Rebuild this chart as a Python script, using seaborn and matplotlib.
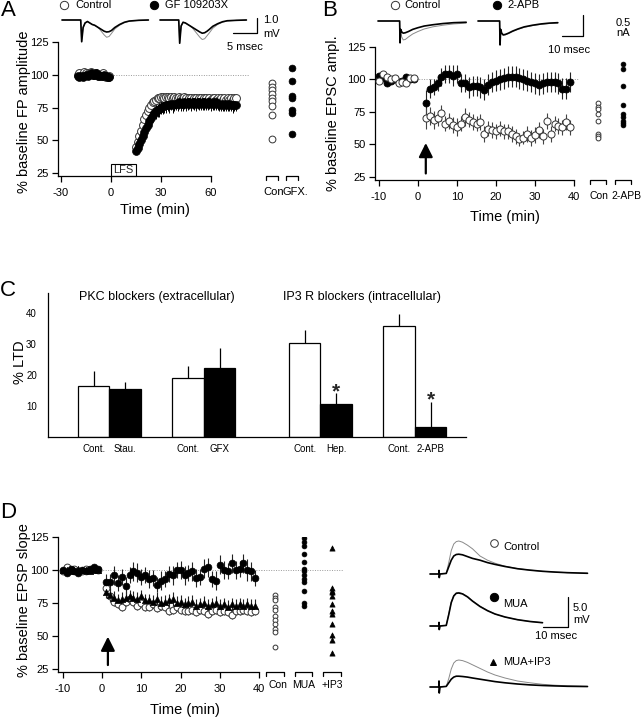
import matplotlib
matplotlib.use("Agg")
import matplotlib.pyplot as plt
from matplotlib.lines import Line2D
from matplotlib.patches import Rectangle
import numpy as np
import pandas as pd
import seaborn as sns

# ======================= DATA =======================
# ---- Panel A: % baseline FP amplitude (Control vs GF 109203X) ----
A_BASE_T = list(range(-20, 0))
A_POST_T = list(range(15, 76))
A_CON_BASE = [100, 101, 99, 100, 102, 101, 100, 101, 102, 101,
              100, 101, 100, 99, 100, 101, 99, 98, 98, 99]
A_GFX_BASE = [99, 98, 99, 98, 99, 100, 99, 100, 101, 100,
              100, 101, 99, 100, 99, 99, 100, 99, 98, 98]
A_CON_POST = [45, 49, 53, 57, 62, 66, 69, 72, 75, 77,
              79, 80, 81, 82, 82, 83, 83, 82, 83, 83,
              82, 83, 82, 83, 82, 82, 83, 82, 82, 83,
              82, 81, 82, 82, 81, 82, 82, 81, 82, 82,
              81, 82, 82, 81, 82, 81, 82, 82, 81, 82,
              81, 82, 81, 82, 81, 82, 81, 82, 81, 82,
              82]
A_GFX_POST = [42, 44, 47, 50, 53, 56, 59, 62, 65, 67,
              69, 71, 72, 73, 74, 75, 76, 76, 77, 77,
              77, 78, 77, 78, 78, 78, 79, 78, 78, 79,
              78, 79, 79, 78, 79, 79, 78, 79, 79, 78,
              79, 79, 78, 79, 79, 78, 79, 78, 79, 78,
              78, 77, 78, 77, 78, 77, 78, 77, 77, 77,
              77]
A_CON_SEM = [2, 2, 3, 3, 3, 3, 3, 3, 3, 3,
             3, 3, 3, 3, 3, 3, 3, 3, 3, 3,
             3, 3, 3, 3, 3, 3, 3, 3, 3, 3,
             3, 3, 3, 3, 3, 3, 3, 3, 3, 3,
             3, 3, 3, 3, 3, 3, 3, 3, 3, 3,
             3, 3, 3, 3, 3, 3, 3, 3, 3, 3,
             3]
A_GFX_SEM = [2, 3, 3, 3, 4, 4, 4, 4, 5, 5,
             5, 5, 6, 5, 6, 5, 6, 5, 6, 5,
             6, 5, 6, 6, 5, 6, 5, 6, 6, 5,
             6, 6, 5, 6, 5, 6, 6, 5, 6, 5,
             6, 6, 5, 6, 5, 6, 6, 5, 6, 5,
             6, 5, 6, 5, 6, 5, 6, 5, 6, 5,
             5]
A_COL_CON = [94, 91, 88, 85, 82, 80, 76, 69, 51]
A_COL_GFX = [105, 95, 84, 82, 73, 71, 55]
A_COL_LABELS = ["Con", "GFX."]
LFS_START, LFS_END = 0, 15

# Panel A field-potential traces (ms, mV)
A_TR_T = [0, 3.9, 4.1, 4.4, 4.8, 5.3, 5.8, 6.3, 6.8, 7.3, 7.8, 8.3, 8.8,
          9.3, 9.8, 10.3, 11.0, 12.0, 13.0, 14.0, 16.0, 18.0]
A_TR1_BEFORE = [0, 0, -1.45, -0.5, -0.2, -0.1, -0.2, -0.3, -0.35, -0.45, -0.6, -0.8,
                -1.0, -1.15, -1.1, -0.9, -0.6, -0.35, -0.18, -0.08, -0.02, 0]
A_TR1_AFTER = [0, 0, -1.45, -0.5, -0.2, -0.1, -0.2, -0.3, -0.35, -0.45, -0.55, -0.65,
               -0.75, -0.8, -0.78, -0.7, -0.5, -0.3, -0.15, -0.07, -0.02, 0]
A_TR2_BEFORE = [0, 0, -1.55, -0.4, -0.15, -0.2, -0.3, -0.4, -0.55, -0.75, -0.95, -1.15,
                -1.3, -1.25, -1.05, -0.85, -0.55, -0.3, -0.15, -0.07, -0.02, 0]
A_TR2_AFTER = [0, 0, -1.55, -0.4, -0.15, -0.2, -0.3, -0.4, -0.5, -0.6, -0.7, -0.8,
               -0.88, -0.85, -0.75, -0.62, -0.42, -0.25, -0.12, -0.05, -0.02, 0]
A_SCALE_MS, A_SCALE_MV = 5, 1.0

# ---- Panel B: % baseline EPSC amplitude (Control vs 2-APB) ----
B_BASE_T = list(range(-10, 0))
B_POST_T = list(range(2, 40))
B_CON_BASE = [99, 104, 102, 100, 101, 97, 98, 97, 101, 101]
B_APB_BASE = [103, 101, 97, 99, 100, 98, 99, 102, 100, 100]
B_CON_POST = [70, 72, 69, 70, 74, 66, 68, 65, 63, 66,
              71, 69, 67, 66, 67, 58, 62, 61, 60, 62,
              60, 60, 58, 56, 54, 55, 58, 55, 57, 61,
              56, 68, 58, 66, 64, 63, 67, 63]
B_APB_POST = [82, 93, 94, 97, 102, 104, 104, 103, 104, 97,
              97, 94, 95, 95, 94, 92, 96, 98, 99, 100,
              101, 102, 102, 102, 101, 100, 99, 98, 97, 96,
              97, 98, 98, 98, 97, 93, 93, 98]
B_CON_SEM = [8, 7, 7, 6, 6, 6, 6, 6, 7, 6,
             7, 6, 6, 6, 6, 6, 6, 6, 6, 6,
             6, 6, 6, 6, 5, 5, 6, 6, 6, 6,
             6, 6, 6, 6, 6, 6, 6, 6]
B_APB_SEM = [10, 7, 6, 6, 7, 7, 7, 8, 7, 7,
             7, 8, 8, 8, 8, 8, 8, 8, 8, 8,
             8, 8, 8, 8, 8, 8, 8, 8, 8, 8,
             8, 8, 8, 8, 8, 8, 8, 8]
B_COL_CON = [82, 79, 77, 73, 68, 58, 56, 55]
B_COL_APB = [112, 108, 95, 80, 73, 71, 68, 66, 65]
B_COL_LABELS = ["Con", "2-APB"]
B_ARROW_T = 2

# Panel B EPSC traces (ms, nA)
B_TR_T1 = [0, 10.3, 10.5, 10.8, 11.3, 12.0, 13.0, 14.5, 16.5, 19.0, 22.0, 26.0, 31.0, 36.0, 42.0]
B_TR_T2 = [0, 10.3, 10.5, 10.8, 11.3, 12.0, 13.0, 14.5, 16.5, 19.0, 22.0, 26.0, 30.0, 34.0, 38.0]
B_TR1_BEFORE = [0, 0, -0.52, -0.25, -0.38, -0.45, -0.44, -0.38, -0.31, -0.25, -0.19, -0.14, -0.1, -0.07, -0.05]
B_TR1_AFTER = [0, 0, -0.52, -0.2, -0.26, -0.29, -0.28, -0.25, -0.2, -0.16, -0.12, -0.09, -0.06, -0.04, -0.03]
B_TR2_BEFORE = [0, 0, -0.57, -0.22, -0.3, -0.34, -0.33, -0.3, -0.25, -0.2, -0.15, -0.11, -0.08, -0.06, -0.05]
B_TR2_AFTER = [0, 0, -0.57, -0.2, -0.29, -0.33, -0.32, -0.29, -0.24, -0.19, -0.14, -0.1, -0.07, -0.05, -0.04]
B_SCALE_MS, B_SCALE_NA = 10, 0.5

# ---- Panel C: % LTD bars ----
C_LABELS = ["Cont.", "Stau.", "Cont.", "GFX", "Cont.", "Hep.", "Cont.", "2-APB"]
C_KIND = ["Cont", "Drug", "Cont", "Drug", "Cont", "Drug", "Cont", "Drug"]
C_LTD = [16.5, 15.3, 19.1, 22.3, 30.1, 10.5, 35.8, 3.3]
C_ERR = [4.8, 2.5, 3.7, 6.2, 4.3, 3.5, 3.8, 8.0]
C_SIG = [False, False, False, False, False, True, False, True]
C_TITLES = ["PKC blockers (extracellular)", "IP3 R blockers (intracellular)"]

# ---- Panel D: % baseline EPSP slope (Control, MUA, MUA+IP3) ----
D_BASE_T = list(range(-10, 0))
D_POST_T = list(range(1, 40))
D_CON_BASE = [99, 102, 100, 101, 99, 99, 101, 100, 101, 100]
D_MUA_BASE = [100, 98, 101, 99, 98, 100, 99, 101, 102, 101]
D_IP3_BASE = [100, 100, 99, 100, 101, 100, 100, 99, 100, 100]
D_MUA_POST = [91, 91, 96, 90, 95, 88, 96, 99, 98, 95,
              96, 93, 94, 89, 92, 93, 97, 96, 100, 100,
              96, 98, 99, 94, 95, 101, 102, 93, 92, 104,
              100, 99, 105, 100, 101, 105, 100, 99, 94]
D_CON_POST = [86, 80, 76, 74, 72, 76, 78, 76, 73, 75,
              72, 72, 74, 71, 73, 72, 69, 70, 72, 70,
              69, 69, 70, 68, 70, 69, 67, 69, 70, 68,
              69, 68, 66, 69, 69, 70, 69, 68, 69]
D_IP3_POST = [83, 81, 79, 77, 78, 79, 80, 79, 78, 80,
              77, 77, 76, 78, 75, 76, 77, 78, 75, 76,
              74, 75, 76, 73, 74, 75, 73, 74, 75, 73,
              74, 72, 74, 73, 74, 73, 74, 73, 73]
D_MUA_SEM = [6, 6, 7, 6, 6, 7, 6, 7, 7, 6,
             6, 7, 6, 6, 7, 6, 6, 7, 6, 7,
             7, 6, 7, 7, 6, 7, 7, 6, 7, 7,
             7, 6, 7, 7, 6, 7, 8, 7, 6]
D_CON_SEM = [3, 3, 3, 3, 3, 3, 3, 3, 3, 3,
             3, 3, 3, 3, 3, 3, 3, 3, 3, 3,
             3, 3, 3, 3, 3, 3, 3, 3, 3, 3,
             3, 3, 3, 3, 3, 3, 3, 3, 3]
D_IP3_SEM = [4, 5, 5, 5, 5, 5, 5, 5, 5, 5,
             5, 5, 5, 5, 5, 5, 5, 5, 5, 5,
             5, 5, 5, 5, 5, 5, 5, 5, 5, 5,
             5, 5, 5, 5, 5, 5, 5, 5, 5]
D_COL_CON = [81, 79, 77, 72, 70, 65, 62, 59, 55, 53, 42]
D_COL_MUA = [124, 121, 118, 112, 106, 101, 99, 96, 93, 91, 84, 75, 73]
D_COL_IP3 = [117, 86, 84, 83, 80, 74, 69, 67, 59, 51, 47, 37]
D_COL_LABELS = ["Con", "MUA", "+IP3"]
D_ARROW_T = 1.5

# Panel D EPSP traces (ms, mV)
D_TR_T = [0, 3.5, 3.6, 3.7, 4, 6.5, 7.5, 8.5, 9.5, 10.5, 11.5, 13, 15, 17,
          20, 23, 26, 30, 35, 40, 45, 50, 55, 63]
D_TR_T_MUA = [0, 3.5, 3.6, 3.7, 4, 6.5, 7.5, 8.5, 9.5, 10.5, 11.5, 13, 15, 17,
              20, 23, 26, 30, 35, 40, 45]
D_CTRL_BEFORE = [0, 0, 0.6, -0.6, 0, 0.1, 1.9, 3.9, 5.0, 5.4, 5.5, 5.3, 4.8, 4.2,
                 3.0, 2.3, 1.8, 1.3, 0.9, 0.65, 0.45, 0.32, 0.22, 0.12]
D_CTRL_AFTER = [0, 0, 0.6, -0.6, 0, 0.1, 1.2, 2.3, 3.0, 3.25, 3.3, 3.2, 2.9, 2.6,
                2.3, 1.9, 1.6, 1.25, 0.88, 0.64, 0.45, 0.32, 0.22, 0.12]
D_MUA_BEFORE = [0, 0, 0.6, -0.6, 0, 0.1, 2.0, 4.0, 5.1, 5.5, 5.6, 5.4, 4.9, 4.2,
                3.3, 2.6, 2.0, 1.5, 1.05, 0.75, 0.55]
D_MUA_AFTER = [0, 0, 0.6, -0.6, 0, 0.1, 1.9, 3.9, 5.0, 5.45, 5.5, 5.35, 4.85, 4.15,
               3.25, 2.55, 2.0, 1.5, 1.05, 0.75, 0.55]
D_IP3_BEFORE = [0, 0, 1.0, -1.0, 0, 0.1, 1.4, 3.0, 4.0, 4.4, 4.5, 4.4, 4.1, 3.7,
                3.1, 2.5, 2.0, 1.5, 1.0, 0.7, 0.45, 0.3, 0.2, 0.1]
D_IP3_AFTER = [0, 0, 1.0, -1.0, 0, 0.1, 0.7, 1.3, 1.65, 1.8, 1.8, 1.75, 1.65, 1.5,
               1.3, 1.1, 0.9, 0.7, 0.5, 0.35, 0.25, 0.18, 0.12, 0.08]
D_SCALE_MS, D_SCALE_MV = 10, 5.0
D_TRACE_NAMES = ["Control", "MUA", "MUA+IP3"]

# ======================= STYLE / LAYOUT =======================
sns.set_theme(style="ticks")
plt.rcParams["font.family"] = ["Liberation Sans", "DejaVu Sans"]
plt.rcParams["axes.unicode_minus"] = False

W, H = 644, 720
fig = plt.figure(figsize=(W / 100, H / 100), dpi=100)
fig.patch.set_facecolor("white")

OPEN = dict(color="white", edgecolor="#333333", linewidth=0.7)
FILL = dict(color="black", edgecolor="black", linewidth=0.5)
GRAYLINE = dict(colors="#9a9a9a", linestyles=(0, (1, 1.5)), lw=0.7, zorder=1)


def px_axes(left, top, right, bottom):
    ax = fig.add_axes([left / W, 1 - bottom / H, (right - left) / W, (bottom - top) / H])
    ax.patch.set_alpha(0)
    return ax


def set_px_lims(ax, rect, xref_px, xref, xscale, yref_px, yref, yscale):
    left, top, right, bottom = rect
    ax.set_xlim(xref + (left - xref_px) / xscale, xref + (right - xref_px) / xscale)
    ax.set_ylim(yref - (bottom - yref_px) / yscale, yref - (top - yref_px) / yscale)


def ftext(x, y, s, **kw):
    kw.setdefault("color", "black")
    fig.text(x / W, 1 - y / H, s, **kw)


def fmarker(x, y, marker, filled, size):
    fig.add_artist(Line2D([x / W], [1 - y / H], marker=marker, markersize=size,
                          markerfacecolor="black" if filled else "white",
                          markeredgecolor="black" if filled else "#333333",
                          markeredgewidth=0.7, transform=fig.transFigure))


def style_tc(ax, xticks, yticks):
    sns.despine(ax=ax)
    x0, _ = ax.get_xlim()
    y0, _ = ax.get_ylim()
    ax.spines["left"].set_bounds(y0, yticks[-1])
    ax.spines["bottom"].set_bounds(x0, xticks[-1])
    for s in ("left", "bottom"):
        ax.spines[s].set_linewidth(0.9)
        ax.spines[s].set_color("black")
    ax.set_xticks(xticks)
    ax.set_yticks(yticks)
    ax.set_xticklabels([str(v) for v in xticks])
    ax.set_yticklabels([str(v) for v in yticks])
    ax.tick_params(axis="both", direction="out", length=4.5, width=0.9, labelsize=8,
                   color="black", labelcolor="black")
    ax.tick_params(axis="x", pad=4)
    ax.tick_params(axis="y", pad=2)
    ax.set_xlabel("")
    ax.set_ylabel("")


def style_cols(ax, labels, label_pos, half, leg, drop_pt, fs=8):
    for s in ax.spines.values():
        s.set_visible(False)
    ax.set_yticks([])
    ax.set_xticks([])
    ax.set_xlabel("")
    ax.set_ylabel("")
    yb = ax.get_ylim()[0]
    for i in range(len(labels)):
        ax.plot([i - half, i - half, i + half, i + half], [yb - leg, yb, yb, yb - leg],
                color="black", lw=0.9, clip_on=False)
    for lab, xp in zip(labels, label_pos):
        ax.annotate(lab, xy=(xp, 0), xycoords=("data", "axes fraction"),
                    xytext=(0, -drop_pt), textcoords="offset points",
                    ha="center", va="top", fontsize=fs, color="black", annotation_clip=False)


def scatter(ax, x, y, style, marker="o", s=30):
    sns.scatterplot(x=x, y=y, ax=ax, marker=marker, s=s, legend=False, zorder=3, **style)


def trace(ax, t, v, thin):
    sns.lineplot(x=t, y=v, ax=ax, estimator=None, sort=False,
                 color="#8a8a8a" if thin else "black", lw=0.7 if thin else 1.2)


# ======================= PANEL A =======================
rA = (58, 42, 250, 176)
axA = px_axes(*rA)
axA.hlines(100, -20.5, 84, **GRAYLINE)
axA.errorbar(A_POST_T, A_CON_POST, yerr=A_CON_SEM, fmt="none", ecolor="#555555", elinewidth=0.7, zorder=2)
axA.errorbar(A_POST_T, A_GFX_POST, yerr=A_GFX_SEM, fmt="none", ecolor="black", elinewidth=0.7, zorder=2)
scatter(axA, A_BASE_T + A_POST_T, A_CON_BASE + A_CON_POST, OPEN, s=32)
scatter(axA, A_BASE_T + A_POST_T, A_GFX_BASE + A_GFX_POST, FILL, s=32)
set_px_lims(axA, rA, 61, -30, 50 / 30, 42, 125, 1.31)
style_tc(axA, [-30, 0, 30, 60], [25, 50, 75, 100, 125])
yb = axA.get_ylim()[0]
axA.add_patch(Rectangle((LFS_START, yb), LFS_END - LFS_START, 9.5, fill=False, lw=0.8,
                        edgecolor="black", clip_on=False, zorder=4))
axA.text((LFS_START + LFS_END) / 2, yb + 4.6, "LFS", ha="center", va="center", fontsize=8)

rAc = (258, 42, 306, 176)
axAc = px_axes(*rAc)
scatter(axAc, [0] * len(A_COL_CON), A_COL_CON, OPEN, s=24)
scatter(axAc, [1] * len(A_COL_GFX), A_COL_GFX, FILL, s=24)
set_px_lims(axAc, rAc, 272, 0, 20, 42, 125, 1.31)
style_cols(axAc, A_COL_LABELS, [0.08, 1.18], 0.3, 3.0, 8, fs=8)

# traces A
rAt1 = (60, 8, 152, 46)
axAt1 = px_axes(*rAt1)
trace(axAt1, A_TR_T, A_TR1_BEFORE, True)
trace(axAt1, A_TR_T, A_TR1_AFTER, False)
set_px_lims(axAt1, rAt1, 62, 0, 4.8, 20, 0, 15)
axAt1.axis("off")
rAt2 = (158, 8, 262, 46)
axAt2 = px_axes(*rAt2)
trace(axAt2, A_TR_T, A_TR2_BEFORE, True)
trace(axAt2, A_TR_T, A_TR2_AFTER, False)
ax_corner = (20.2, -0.87)
axAt2.plot([ax_corner[0] - A_SCALE_MS, ax_corner[0], ax_corner[0]],
           [ax_corner[1], ax_corner[1], ax_corner[1] + A_SCALE_MV], color="black", lw=0.9, clip_on=False)
set_px_lims(axAt2, rAt2, 160, 0, 4.8, 20, 0, 15)
axAt2.axis("off")

ftext(1, 11, "A", fontsize=16, ha="left", va="center")
fmarker(64, 5, "o", False, 6)
ftext(75, 5, "Control", fontsize=8, ha="left", va="center")
fmarker(154, 5, "o", True, 6)
ftext(165, 5, "GF 109203X", fontsize=8, ha="left", va="center")
ftext(263, 20, "1.0", fontsize=8, ha="left", va="center")
ftext(263, 34, "mV", fontsize=8, ha="left", va="center")
ftext(245, 47, "5 msec", fontsize=8, ha="center", va="center")
ftext(24, 112, "% baseline FP amplitude", fontsize=10.5, rotation=90, ha="center", va="center")
ftext(155, 210, "Time (min)", fontsize=10.5, ha="center", va="center")

# ======================= PANEL B =======================
rB = (375, 47, 580, 180)
axB = px_axes(*rB)
axB.hlines(100, -11, 41, **GRAYLINE)
axB.errorbar(B_POST_T, B_APB_POST, yerr=B_APB_SEM, fmt="none", ecolor="#222222", elinewidth=0.8, zorder=2)
axB.errorbar(B_POST_T, B_CON_POST, yerr=B_CON_SEM, fmt="none", ecolor="#444444", elinewidth=0.8, zorder=2)
scatter(axB, B_BASE_T + B_POST_T, B_APB_BASE + B_APB_POST, FILL, s=26)
scatter(axB, B_BASE_T + B_POST_T, B_CON_BASE + B_CON_POST, OPEN, s=26)
axB.annotate("", xy=(B_ARROW_T, 51), xytext=(B_ARROW_T, 27.5),
             arrowprops=dict(arrowstyle="-|>,head_length=0.6,head_width=0.3", color="black",
                             lw=1.6, shrinkA=0, shrinkB=0, mutation_scale=14))
set_px_lims(axB, rB, 418, 0, 3.9, 46.7, 125, 1.3)
style_tc(axB, [-10, 0, 10, 20, 30, 40], [25, 50, 75, 100, 125])

rBc = (585, 47, 640, 180)
axBc = px_axes(*rBc)
scatter(axBc, [0] * len(B_COL_CON), B_COL_CON, OPEN, s=12)
scatter(axBc, [1] * len(B_COL_APB), B_COL_APB, FILL, s=12)
set_px_lims(axBc, rBc, 598, 0, 25, 46.7, 125, 1.3)
style_cols(axBc, B_COL_LABELS, [0.04, 1.12], 0.33, 3.0, 8, fs=7.5)

rBt1 = (376, 8, 472, 48)
axBt1 = px_axes(*rBt1)
trace(axBt1, B_TR_T1, B_TR1_BEFORE, True)
trace(axBt1, B_TR_T1, B_TR1_AFTER, False)
set_px_lims(axBt1, rBt1, 378, 0, 2.1, 21, 0, 42)
axBt1.axis("off")
rBt2 = (476, 8, 590, 48)
axBt2 = px_axes(*rBt2)
trace(axBt2, B_TR_T2, B_TR2_BEFORE, True)
trace(axBt2, B_TR_T2, B_TR2_AFTER, False)
bc = (50.0, -0.357)
axBt2.plot([bc[0] - B_SCALE_MS, bc[0], bc[0]], [bc[1], bc[1], bc[1] + B_SCALE_NA],
           color="black", lw=0.9, clip_on=False)
set_px_lims(axBt2, rBt2, 478, 0, 2.1, 21, 0, 42)
axBt2.axis("off")

ftext(322, 11, "B", fontsize=16, ha="left", va="center")
fmarker(395, 5, "o", False, 6)
ftext(404, 5, "Control", fontsize=8, ha="left", va="center")
fmarker(497, 5, "o", True, 6)
ftext(507, 5, "2-APB", fontsize=8, ha="left", va="center")
ftext(623, 23, "0.5", fontsize=8, ha="center", va="center")
ftext(623, 33, "nA", fontsize=8, ha="center", va="center")
ftext(569, 50, "10 msec", fontsize=8, ha="center", va="center")
ftext(333, 113, "% baseline EPSC ampl.", fontsize=10.5, rotation=90, ha="center", va="center")
ftext(505, 217, "Time (min)", fontsize=10.5, ha="center", va="center")

# ======================= PANEL C =======================
C_POS = [1.45, 2.45, 4.45, 5.45, 8.15, 9.15, 11.15, 12.15]
rC = (48, 293, 466, 437)
axC = px_axes(*rC)
dfC = pd.DataFrame({"pos": C_POS, "ltd": C_LTD, "kind": C_KIND})
sns.barplot(data=dfC, x="pos", y="ltd", hue="kind", palette={"Cont": "white", "Drug": "black"},
            native_scale=True, width=1.0, dodge=False, edgecolor="black", linewidth=0.9,
            errorbar=None, legend=False, ax=axC, zorder=2)
tops = [m + e for m, e in zip(C_LTD, C_ERR)]
axC.vlines(C_POS, C_LTD, tops, colors="black", lw=0.9, zorder=1)
for p, t, sig in zip(C_POS, tops, C_SIG):
    if sig:
        axC.text(p, t + 0.6, "*", ha="center", va="center", fontsize=15, fontweight="bold")
set_px_lims(axC, rC, 48, 0, 31.5, 437, 0, 3.11)
sns.despine(ax=axC)
for s in ("left", "bottom"):
    axC.spines[s].set_linewidth(0.9)
    axC.spines[s].set_color("black")
axC.set_yticks([10, 20, 30, 40])
axC.set_yticklabels(["10", "20", "30", "40"])
axC.set_xticks(C_POS)
axC.set_xticklabels(C_LABELS)
axC.tick_params(axis="y", length=0, pad=8, labelsize=7, labelcolor="black")
axC.tick_params(axis="x", length=0, pad=5, labelsize=7, labelcolor="black")
axC.set_xlabel("")
axC.set_ylabel("")
ftext(157, 297, C_TITLES[0], fontsize=9, ha="center", va="center")
ftext(362, 297, C_TITLES[1], fontsize=9, ha="center", va="center")
ftext(20, 362, "% LTD", fontsize=10.5, rotation=90, ha="center", va="center")
ftext(0, 290, "C", fontsize=16, ha="left", va="center")

# ======================= PANEL D =======================
rD = (58, 537, 262, 672)
axD = px_axes(*rD)
axD.hlines(100, -11, 42, **GRAYLINE)
axD.errorbar(D_POST_T, D_CON_POST, yerr=D_CON_SEM, fmt="none", ecolor="#444444", elinewidth=0.8, zorder=2)
axD.errorbar(D_POST_T, D_IP3_POST, yerr=D_IP3_SEM, fmt="none", ecolor="#222222", elinewidth=0.8, zorder=2)
axD.errorbar(D_POST_T, D_MUA_POST, yerr=D_MUA_SEM, fmt="none", ecolor="#222222", elinewidth=0.8, zorder=2)
scatter(axD, D_BASE_T + D_POST_T, D_CON_BASE + D_CON_POST, OPEN, s=24)
scatter(axD, D_BASE_T + D_POST_T, D_IP3_BASE + D_IP3_POST, FILL, marker="^", s=20)
scatter(axD, D_BASE_T + D_POST_T, D_MUA_BASE + D_MUA_POST, FILL, s=24)
axD.annotate("", xy=(D_ARROW_T, 49.5), xytext=(D_ARROW_T, 28),
             arrowprops=dict(arrowstyle="-|>,head_length=0.6,head_width=0.3", color="black",
                             lw=1.6, shrinkA=0, shrinkB=0, mutation_scale=14))
set_px_lims(axD, rD, 102, 0, 3.93, 570, 100, 1.32)
style_tc(axD, [-10, 0, 10, 20, 30, 40], [25, 50, 75, 100, 125])

rDc = (262, 537, 345, 672)
axDc = px_axes(*rDc)
axDc.hlines(100, -0.5, 2.4, **GRAYLINE)
scatter(axDc, [0] * len(D_COL_CON), D_COL_CON, OPEN, s=12)
scatter(axDc, [1] * len(D_COL_MUA), D_COL_MUA, FILL, s=12)
scatter(axDc, [2] * len(D_COL_IP3), D_COL_IP3, FILL, marker="^", s=14)
set_px_lims(axDc, rDc, 275, 0, 28.5, 570, 100, 1.32)
style_cols(axDc, D_COL_LABELS, [0.1, 1.0, 2.0], 0.3, 3.0, 6, fs=7.5)

trace_sets = [
    (D_TR_T, D_CTRL_BEFORE, D_CTRL_AFTER, (428, 530, 600, 582), 574),
    (D_TR_T_MUA, D_MUA_BEFORE, D_MUA_AFTER, (428, 585, 600, 636), 626),
    (D_TR_T, D_IP3_BEFORE, D_IP3_AFTER, (428, 645, 600, 697), 687),
]
for k, (tt, before, after, rect, base_px) in enumerate(trace_sets):
    axt = px_axes(*rect)
    trace(axt, tt, before, True)
    trace(axt, tt, after, False)
    if k == 1:
        dc = (55.2, -0.17)
        axt.plot([dc[0] - D_SCALE_MS, dc[0], dc[0]], [dc[1], dc[1], dc[1] + D_SCALE_MV],
                 color="black", lw=0.9, clip_on=False)
    set_px_lims(axt, rect, 430, 0, 2.5, base_px, 0, 6)
    axt.axis("off")

fmarker(494, 543, "o", False, 5.5)
ftext(503, 547, D_TRACE_NAMES[0], fontsize=8, ha="left", va="center")
fmarker(494, 597, "o", True, 6)
ftext(503, 604, D_TRACE_NAMES[1], fontsize=8, ha="left", va="center")
fmarker(493, 662, "^", True, 5)
ftext(503, 662, D_TRACE_NAMES[2], fontsize=8, ha="left", va="center")
ftext(573, 608, "5.0", fontsize=8, ha="left", va="center")
ftext(573, 620, "mV", fontsize=8, ha="left", va="center")
ftext(556, 636, "10 msec", fontsize=8, ha="center", va="center")

ftext(0, 512, "D", fontsize=16, ha="left", va="center")
ftext(24, 600, "% baseline EPSP slope", fontsize=10.5, rotation=90, ha="center", va="center")
ftext(185, 710, "Time (min)", fontsize=10.5, ha="center", va="center")

fig.savefig("out.png", dpi=100, facecolor="white")
